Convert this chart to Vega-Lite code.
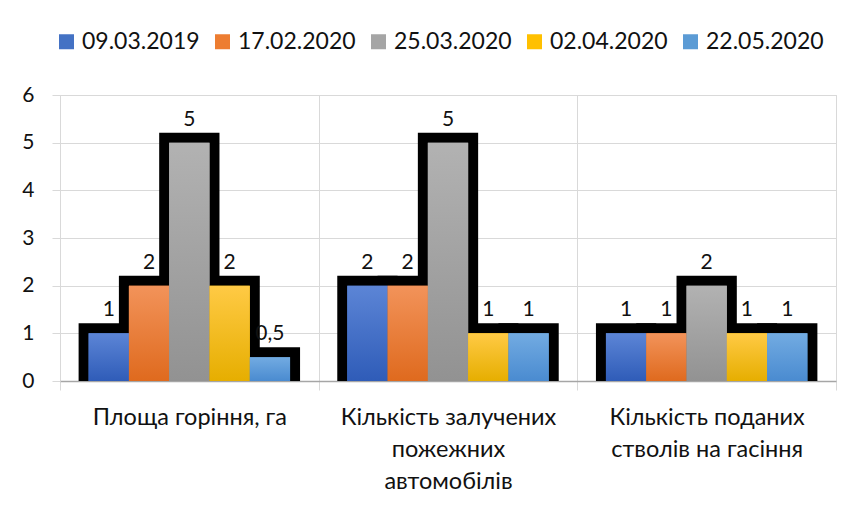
{
  "$schema": "https://vega.github.io/schema/vega-lite/v6.json",
  "width": 776,
  "height": 286,
  "autosize": {"type": "none"},
  "padding": {"left": 60, "top": 95, "right": 27, "bottom": 131},
  "background": "white",
  "config": {
    "locale": {"number": {"decimal": ",", "thousands": " ", "grouping": [3], "currency": ["", ""]}},
    "view": {"stroke": "#d9d9d9", "strokeWidth": 1},
    "font": "Lato"
  },
  "data": {
    "values": [
      {"cat": "Площа горіння, га", "series": "09.03.2019", "value": 1},
      {"cat": "Площа горіння, га", "series": "17.02.2020", "value": 2},
      {"cat": "Площа горіння, га", "series": "25.03.2020", "value": 5},
      {"cat": "Площа горіння, га", "series": "02.04.2020", "value": 2},
      {"cat": "Площа горіння, га", "series": "22.05.2020", "value": 0.5},
      {"cat": "Кількість залучених|пожежних|автомобілів", "series": "09.03.2019", "value": 2},
      {"cat": "Кількість залучених|пожежних|автомобілів", "series": "17.02.2020", "value": 2},
      {"cat": "Кількість залучених|пожежних|автомобілів", "series": "25.03.2020", "value": 5},
      {"cat": "Кількість залучених|пожежних|автомобілів", "series": "02.04.2020", "value": 1},
      {"cat": "Кількість залучених|пожежних|автомобілів", "series": "22.05.2020", "value": 1},
      {"cat": "Кількість поданих|стволів на гасіння", "series": "09.03.2019", "value": 1},
      {"cat": "Кількість поданих|стволів на гасіння", "series": "17.02.2020", "value": 1},
      {"cat": "Кількість поданих|стволів на гасіння", "series": "25.03.2020", "value": 2},
      {"cat": "Кількість поданих|стволів на гасіння", "series": "02.04.2020", "value": 1},
      {"cat": "Кількість поданих|стволів на гасіння", "series": "22.05.2020", "value": 1}
    ]
  },
  "encoding": {
    "x": {
      "field": "cat", "type": "nominal",
      "sort": ["Площа горіння, га", "Кількість залучених|пожежних|автомобілів", "Кількість поданих|стволів на гасіння"],
      "scale": {"paddingInner": 0, "paddingOuter": 0},
      "axis": {
        "title": null, "labelAngle": 0, "tickBand": "extent", "grid": true, "gridColor": "#d9d9d9",
        "ticks": true, "tickColor": "#d9d9d9", "tickSize": 9, "domainColor": "#a6a6a6", "domainWidth": 1.5,
        "labelFontSize": 23.5, "labelColor": "#111", "labelPadding": 15, "labelLineHeight": 32, "labelLimit": 400,
        "labelExpr": "split(datum.label, '|')", "labelFont": "Lato"
      }
    },
    "xOffset": {
      "field": "series", "type": "nominal",
      "sort": ["09.03.2019", "17.02.2020", "25.03.2020", "02.04.2020", "22.05.2020"],
      "scale": {"paddingInner": 0, "paddingOuter": 0.71}
    },
    "y": {
      "field": "value", "type": "quantitative",
      "scale": {"domain": [0, 6], "nice": false},
      "axis": {
        "title": null, "values": [0, 1, 2, 3, 4, 5, 6], "grid": true, "gridColor": "#d9d9d9",
        "domain": false, "ticks": true, "tickColor": "#d9d9d9", "tickSize": 8,
        "labelFontSize": 21, "labelColor": "#111", "labelPadding": 18, "labelFont": "Lato"
      }
    }
  },
  "layer": [
    {"mark": {"type": "bar", "fill": "black", "stroke": "black", "strokeWidth": 20, "strokeJoin": "miter", "clip": true}},
    {
      "mark": {"type": "bar", "strokeWidth": 0},
      "encoding": {
        "color": {
          "field": "series", "type": "nominal",
          "scale": {
            "domain": ["09.03.2019", "17.02.2020", "25.03.2020", "02.04.2020", "22.05.2020"],
            "range": ["#4472c4", "#ed7d31", "#a5a5a5", "#ffc000", "#5b9bd5"]
          },
          "legend": {
            "orient": "none", "legendX": -5, "legendY": -65, "direction": "horizontal", "columns": 5,
            "title": null, "symbolType": "square", "symbolSize": 225, "symbolStrokeWidth": 0,
            "labelFontSize": 23, "labelColor": "#111", "labelOffset": 4, "columnPadding": 11,
            "labelFont": "Lato"
          }
        }
      }
    },
    {
      "transform": [{"filter": "datum.series === '09.03.2019'"}],
      "mark": {"type": "bar", "strokeWidth": 0, "fill": {"gradient": "linear", "x1": 0, "y1": 0, "x2": 0, "y2": 1, "stops": [{"offset": 0, "color": "#5c85d6"}, {"offset": 1, "color": "#2f5cb8"}]}}
    },
    {
      "transform": [{"filter": "datum.series === '17.02.2020'"}],
      "mark": {"type": "bar", "strokeWidth": 0, "fill": {"gradient": "linear", "x1": 0, "y1": 0, "x2": 0, "y2": 1, "stops": [{"offset": 0, "color": "#f2935a"}, {"offset": 1, "color": "#df6a1e"}]}}
    },
    {
      "transform": [{"filter": "datum.series === '25.03.2020'"}],
      "mark": {"type": "bar", "strokeWidth": 0, "fill": {"gradient": "linear", "x1": 0, "y1": 0, "x2": 0, "y2": 1, "stops": [{"offset": 0, "color": "#b2b2b2"}, {"offset": 1, "color": "#929292"}]}}
    },
    {
      "transform": [{"filter": "datum.series === '02.04.2020'"}],
      "mark": {"type": "bar", "strokeWidth": 0, "fill": {"gradient": "linear", "x1": 0, "y1": 0, "x2": 0, "y2": 1, "stops": [{"offset": 0, "color": "#ffca45"}, {"offset": 1, "color": "#e6ae00"}]}}
    },
    {
      "transform": [{"filter": "datum.series === '22.05.2020'"}],
      "mark": {"type": "bar", "strokeWidth": 0, "fill": {"gradient": "linear", "x1": 0, "y1": 0, "x2": 0, "y2": 1, "stops": [{"offset": 0, "color": "#72abe2"}, {"offset": 1, "color": "#4a8bd0"}]}}
    },
    {
      "mark": {"type": "text", "baseline": "alphabetic", "dy": -17, "fontSize": 21, "color": "#111", "font": "Lato"},
      "encoding": {"text": {"field": "value", "type": "quantitative", "format": ".1~f"}}
    }
  ]
}
